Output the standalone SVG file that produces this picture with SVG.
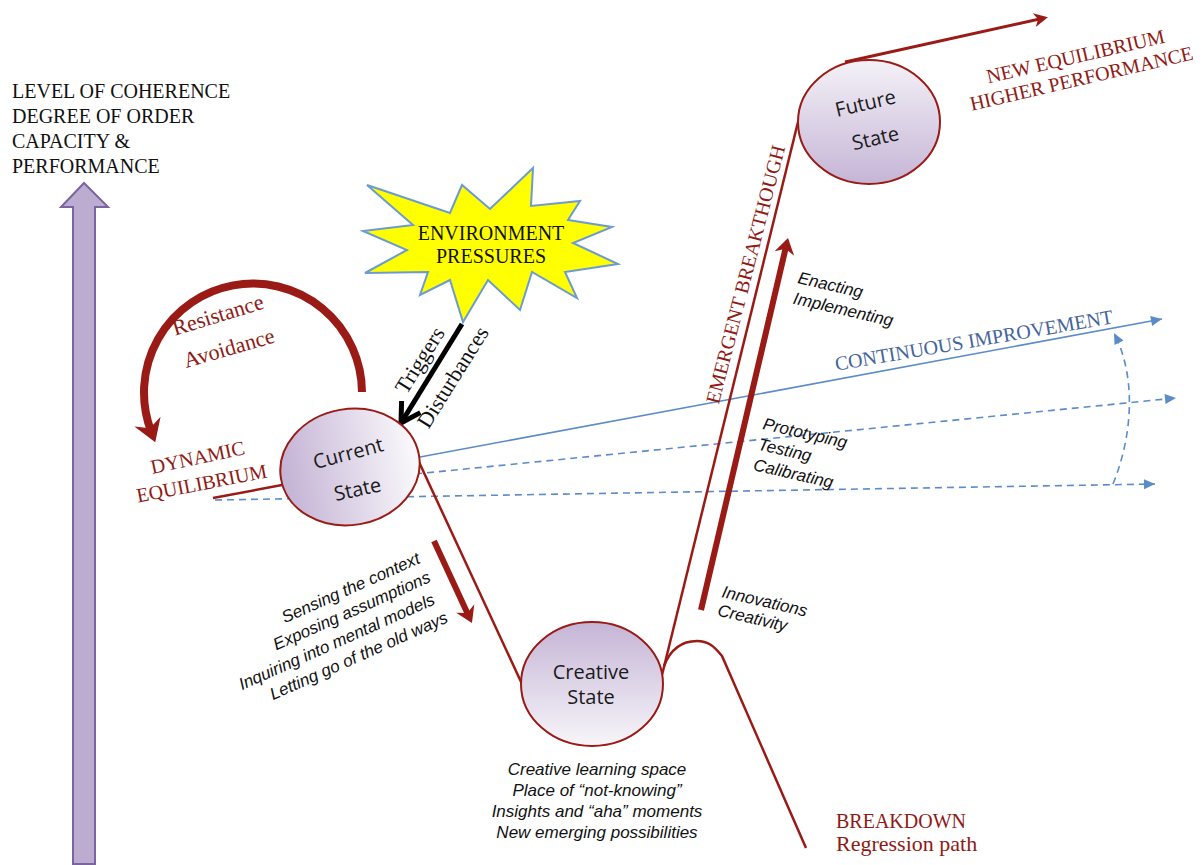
<svg xmlns="http://www.w3.org/2000/svg" width="1203" height="865" viewBox="0 0 1203 865">
<defs>
<style>
.cap{font-family:"Liberation Serif","Times New Roman",serif;font-size:20px}
.ser{font-family:"Liberation Serif","Times New Roman",serif;font-size:22px}
.red{fill:#8f1a15}
.blk{fill:#111}
.blu{fill:#44649c}
.st{font-family:"Open Sans","Noto Sans",sans-serif;font-size:20px;fill:#1a1a1a;text-anchor:middle}
.it{font-family:"Liberation Sans",Arial,sans-serif;font-style:italic;font-size:17px;fill:#111}
.mid{text-anchor:middle}
.rl{stroke:#9a1b16;fill:none;stroke-width:2.5}
.w3{stroke-width:3}
.w6{stroke-width:6}
.w8{stroke-width:8}
.bl{stroke:#5b8bc9;fill:none;stroke-width:1.6}
.dash{stroke-dasharray:7 5}
.node{stroke:#9a1b16;stroke-width:2}
</style>
<linearGradient id="gCur" x1="0" y1="0" x2="1" y2="0">
<stop offset="0" stop-color="#c3b2d4"/><stop offset="1" stop-color="#fbfafc"/>
</linearGradient>
<linearGradient id="gFut" x1="0" y1="0" x2="0" y2="1">
<stop offset="0" stop-color="#f4f1f7"/><stop offset="1" stop-color="#c5b5d6"/>
</linearGradient>
<linearGradient id="gCre" x1="0" y1="0" x2="0" y2="1">
<stop offset="0" stop-color="#c5b5d6"/><stop offset="1" stop-color="#f7f5f9"/>
</linearGradient>
<marker id="mRed" viewBox="-16 -10 18 20" markerWidth="18" markerHeight="20" refX="-8" refY="0" orient="auto" markerUnits="userSpaceOnUse" overflow="visible">
<path d="M0,0 L-16,-10 L-11,0 L-16,10 Z" fill="#9a1b16"/>
</marker>
<marker id="mRedBig" viewBox="-24 -16 26 32" markerWidth="26" markerHeight="32" refX="-12" refY="0" orient="auto" markerUnits="userSpaceOnUse" overflow="visible">
<path d="M0,0 L-22,-14 L-15,0 L-22,14 Z" fill="#9a1b16"/>
</marker>
<marker id="mRedThin" viewBox="-14 -8 16 16" markerWidth="16" markerHeight="16" refX="-4" refY="0" orient="auto" markerUnits="userSpaceOnUse" overflow="visible">
<path d="M0,0 L-14,-7 L-10,0 L-14,7 Z" fill="#9a1b16"/>
</marker>
<marker id="mBlue" viewBox="-12 -6 13 12" markerWidth="13" markerHeight="12" refX="0" refY="0" orient="auto" markerUnits="userSpaceOnUse" overflow="visible">
<path d="M0,0 L-11,-5 L-11,5 Z" fill="#5b8bc9"/>
</marker>
<marker id="mBlk" viewBox="-22 -15 26 30" markerWidth="26" markerHeight="30" refX="0" refY="0" orient="auto" markerUnits="userSpaceOnUse" overflow="visible">
<path d="M-19,-11 L0,0 L-19,11" fill="none" stroke="#000" stroke-width="5"/>
</marker>
</defs>

<g id="axis">
<polygon points="84,183 108,207 95,207 95,864 73,864 73,207 61,207" fill="#bcadd0" stroke="#7c63a2" stroke-width="2"/>
<text class="cap blk" x="12" y="98">LEVEL OF COHERENCE</text>
<text class="cap blk" x="12" y="123">DEGREE OF ORDER</text>
<text class="cap blk" x="12" y="148">CAPACITY &amp;</text>
<text class="cap blk" x="12" y="173">PERFORMANCE</text>
</g>

<g id="connectors">
<line class="bl" x1="420" y1="457" x2="1162" y2="319" marker-end="url(#mBlue)"/>
<line class="bl dash" x1="415" y1="474" x2="1176" y2="398" marker-end="url(#mBlue)"/>
<line class="bl dash" x1="215" y1="500" x2="1155" y2="484" marker-end="url(#mBlue)"/>
<path class="bl dash" d="M1113,484 C1131,440 1138,380 1114,333" marker-end="url(#mBlue)"/>
<line class="rl" x1="213" y1="498" x2="282" y2="485"/>
<line class="rl" x1="419" y1="462" x2="522" y2="684"/>
<line class="rl" x1="662" y1="675" x2="798" y2="122"/>
<path class="rl" d="M664,666 C671,648 682,641 697,641 C708,641 714,646 722,656 L806,848"/>
<line class="rl w3" x1="845" y1="62" x2="1044" y2="18" marker-end="url(#mRedThin)"/>
<line class="rl w6" x1="701" y1="610" x2="786.2" y2="245.8" marker-end="url(#mRed)"/>
<line class="rl w6" x1="434" y1="541" x2="468.6" y2="615.7" marker-end="url(#mRed)"/>
<path class="rl w8" d="M362,392 A109,109 0 1 0 151,431" marker-end="url(#mRedBig)"/>
<line x1="462" y1="324" x2="401" y2="423" stroke="#000" stroke-width="5" marker-end="url(#mBlk)"/>
</g>

<g id="environment-pressures">
<polygon points="367,185 450,213 462,185 490,209 533,168 531,206 580,201 568,220 612,227 573,243 618,264 565,272 577,298 532,272 520,310 488,280 463,322 450,280 420,295 428,272 365,273 407,250 363,231 413,225" fill="#ffff00" stroke="#6b9bd1" stroke-width="2" stroke-linejoin="miter"/>
<text class="cap blk mid" x="491" y="240">ENVIRONMENT</text>
<text class="cap blk mid" x="491" y="263">PRESSURES</text>
</g>

<g id="current-state">
<ellipse cx="350" cy="467" rx="70" ry="58" transform="rotate(-10 350 467)" fill="url(#gCur)" class="node"/>
<text class="st" x="350" y="460" transform="rotate(-15 350 460)">Current</text>
<text class="st" x="359" y="496" transform="rotate(-12 359 496)">State</text>
</g>

<g id="creative-state">
<ellipse cx="592" cy="684" rx="71" ry="62" fill="url(#gCre)" class="node"/>
<text class="st" x="591" y="679">Creative</text>
<text class="st" x="591" y="704">State</text>
</g>

<g id="future-state">
<ellipse cx="869" cy="122" rx="71" ry="62" fill="url(#gFut)" class="node"/>
<text class="st" x="867" y="110" font-size="19" transform="rotate(-13 867 110)">Future</text>
<text class="st" x="877" y="145" font-size="19" transform="rotate(-13 877 145)">State</text>
</g>

<g id="labels">
<text class="ser red mid" x="220" y="322" transform="rotate(-17 220 322)">Resistance</text>
<text class="ser red mid" x="231" y="355" transform="rotate(-16 231 355)">Avoidance</text>
<text class="cap red mid" x="199" y="464" transform="rotate(-12 199 464)">DYNAMIC</text>
<text class="cap red mid" x="203" y="490" transform="rotate(-11 203 490)">EQUILIBRIUM</text>
<text class="ser blk mid" x="426" y="364" transform="rotate(-58 426 364)">Triggers</text>
<text class="ser blk mid" x="459" y="381" transform="rotate(-58 459 381)">Disturbances</text>
<text class="cap red mid" x="752" y="276" transform="rotate(-75.5 752 276)">EMERGENT BREAKTHOUGH</text>
<text class="cap red mid" x="1077" y="63" transform="rotate(-13 1077 63)">NEW EQUILIBRIUM</text>
<text class="cap red mid" x="1083" y="85" transform="rotate(-13 1083 85)">HIGHER PERFORMANCE</text>
<text class="cap blu mid" x="975" y="347" transform="rotate(-9.7 975 347)">CONTINUOUS IMPROVEMENT</text>
<g transform="translate(797 283) rotate(13)">
<text class="it" x="0" y="0">Enacting</text>
<text class="it" x="0" y="21">Implementing</text>
</g>
<g transform="translate(762 429) rotate(13)">
<text class="it" x="0" y="0">Prototyping</text>
<text class="it" x="0" y="21">Testing</text>
<text class="it" x="0" y="42">Calibrating</text>
</g>
<g transform="translate(721 597) rotate(13)">
<text class="it" x="0" y="0">Innovations</text>
<text class="it" x="0" y="19">Creativity</text>
</g>
<text class="it mid" x="353" y="593" transform="rotate(-24 353 593)">Sensing the context</text>
<text class="it mid" x="354" y="616" transform="rotate(-24 354 616)">Exposing assumptions</text>
<text class="it mid" x="339" y="647" transform="rotate(-24 339 647)">Inquiring into mental models</text>
<text class="it mid" x="361" y="661" transform="rotate(-24 361 661)">Letting go of the old ways</text>
<text class="it mid" x="597" y="775">Creative learning space</text>
<text class="it mid" x="597" y="796">Place of “not-knowing”</text>
<text class="it mid" x="597" y="817">Insights and “aha” moments</text>
<text class="it mid" x="597" y="838">New emerging possibilities</text>
<text class="cap red" x="836" y="828">BREAKDOWN</text>
<text class="ser red" x="836" y="851">Regression path</text>
</g>
</svg>
